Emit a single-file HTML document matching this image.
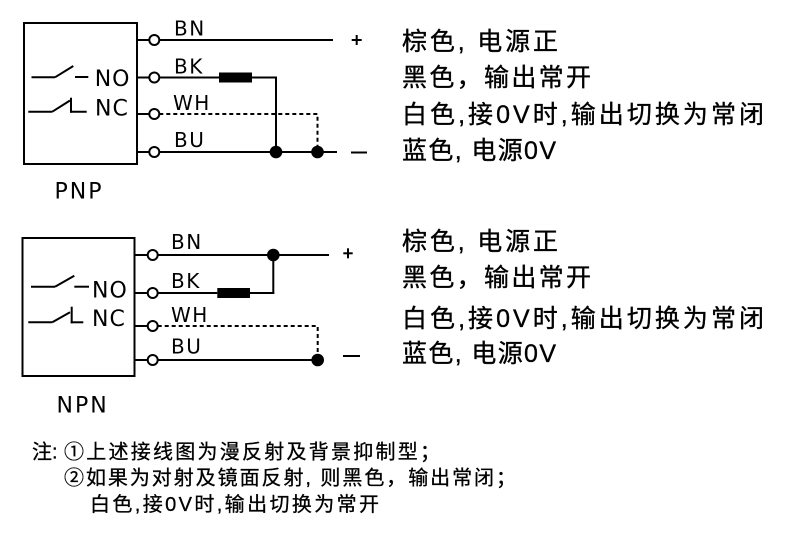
<!DOCTYPE html>
<html>
<head>
<meta charset="utf-8">
<style>
  html,body{margin:0;padding:0;background:#fff;}
  svg{display:block;}
  .lat{font-family:"DejaVu Sans","Liberation Sans",sans-serif;fill:#000;}
  .cjk{font-family:"Liberation Sans","Noto Sans CJK SC",sans-serif;fill:#000;stroke:#000;stroke-width:0.35;}
</style>
</head>
<body>
<svg width="790" height="544" viewBox="0 0 790 544" xmlns="http://www.w3.org/2000/svg">
  <g stroke="#000" stroke-width="2" fill="none">
    <!-- ===== PNP ===== -->
    <rect x="24" y="23" width="113" height="141"/>
    <line x1="31.5" y1="77.3" x2="55" y2="77.3"/>
    <line x1="55" y1="77.3" x2="73.3" y2="66"/>
    <line x1="75" y1="77" x2="88.3" y2="77"/>
    <line x1="28.3" y1="111.7" x2="52.3" y2="111.7"/>
    <line x1="52.3" y1="111.7" x2="70" y2="100.5"/>
    <line x1="71" y1="97.7" x2="71" y2="112.7"/>
    <line x1="70" y1="111.7" x2="86.7" y2="111.7"/>
    <line x1="137" y1="40" x2="149.3" y2="40"/>
    <line x1="137" y1="77.5" x2="149.3" y2="77.5"/>
    <line x1="137" y1="114" x2="149.3" y2="114"/>
    <line x1="137" y1="152" x2="149.3" y2="152"/>
    <line x1="159.3" y1="40" x2="333" y2="40"/>
    <line x1="159.3" y1="77.5" x2="219" y2="77.5"/>
    <polyline points="252,77.5 276,77.5 276,152"/>
    <path d="M159.3 114 H317.5 V152" stroke-dasharray="4 3"/>
    <line x1="159.3" y1="152" x2="337" y2="152"/>
    <line x1="351.7" y1="40" x2="361.7" y2="40"/>
    <line x1="356.7" y1="35" x2="356.7" y2="45"/>
    <line x1="351" y1="152.5" x2="367" y2="152.5"/>

    <!-- ===== NPN ===== -->
    <rect x="22.5" y="238" width="112" height="138"/>
    <line x1="31" y1="286.7" x2="55" y2="286.7"/>
    <line x1="55" y1="286.7" x2="74.3" y2="275.7"/>
    <line x1="74.3" y1="286.7" x2="89" y2="286.7"/>
    <line x1="28.3" y1="322.3" x2="52.3" y2="322.3"/>
    <line x1="52.3" y1="322.3" x2="70" y2="312.3"/>
    <line x1="71.7" y1="306.7" x2="71.7" y2="323.3"/>
    <line x1="70.7" y1="322.3" x2="83.3" y2="322.3"/>
    <line x1="134.5" y1="255" x2="147.7" y2="255"/>
    <line x1="134.5" y1="293" x2="147.7" y2="293"/>
    <line x1="134.5" y1="326" x2="147.7" y2="326"/>
    <line x1="134.5" y1="360" x2="147.7" y2="360"/>
    <line x1="157.7" y1="255" x2="329" y2="255"/>
    <line x1="273.3" y1="255" x2="273.3" y2="294"/>
    <line x1="157.7" y1="293" x2="217.3" y2="293"/>
    <line x1="250" y1="293" x2="274.3" y2="293"/>
    <path d="M157.7 326 H317.7 V360" stroke-dasharray="4 3"/>
    <line x1="157.7" y1="360" x2="317.7" y2="360"/>
    <line x1="343.3" y1="253.3" x2="352.7" y2="253.3"/>
    <line x1="348" y1="248.3" x2="348" y2="258.3"/>
    <line x1="343" y1="356" x2="360" y2="356"/>
  </g>

  <g stroke="#000" stroke-width="2" fill="#fff">
    <circle cx="154.3" cy="40" r="5"/>
    <circle cx="154.3" cy="77.5" r="5"/>
    <circle cx="154.3" cy="114" r="5"/>
    <circle cx="154.3" cy="152" r="5"/>
    <circle cx="152.7" cy="255" r="5"/>
    <circle cx="152.7" cy="293" r="5"/>
    <circle cx="152.7" cy="326" r="5"/>
    <circle cx="152.7" cy="360" r="5"/>
  </g>
  <g fill="#000">
    <rect x="219" y="72.5" width="33" height="10"/>
    <rect x="217.3" y="288" width="32.7" height="10"/>
    <circle cx="276" cy="152" r="6.3"/>
    <circle cx="317.5" cy="152" r="6.3"/>
    <circle cx="273.3" cy="255" r="6.3"/>
    <circle cx="317.7" cy="360" r="6.3"/>
  </g>

  <g class="lat" font-size="20" letter-spacing="1.5">
    <text x="174" y="35.5">BN</text>
    <text x="174" y="73.5">BK</text>
    <text x="173" y="110">WH</text>
    <text x="174" y="147">BU</text>
    <text x="171" y="249">BN</text>
    <text x="171" y="288">BK</text>
    <text x="171" y="322">WH</text>
    <text x="171" y="353.5">BU</text>
  </g>
  <g class="lat" font-size="22" letter-spacing="1">
    <text x="94.7" y="86">NO</text>
    <text x="95" y="115.7">NC</text>
    <text x="92" y="297.7">NO</text>
    <text x="92" y="326">NC</text>
  </g>
  <g class="lat" font-size="22" letter-spacing="2">
    <text x="54.5" y="198.3">PNP</text>
    <text x="56.5" y="412.3">NPN</text>
  </g>

  <g class="cjk" font-size="25">
    <text x="402" y="50" textLength="156" lengthAdjust="spacing">棕色, 电源正</text>
    <text x="402" y="86" textLength="189" lengthAdjust="spacing">黑色，输出常开</text>
    <text x="402" y="123" textLength="362" lengthAdjust="spacing">白色,接0V时,输出切换为常闭</text>
    <text x="402" y="159" textLength="154" lengthAdjust="spacing">蓝色, 电源0V</text>

    <text x="402" y="250" textLength="156" lengthAdjust="spacing">棕色, 电源正</text>
    <text x="402" y="286" textLength="189" lengthAdjust="spacing">黑色，输出常开</text>
    <text x="402" y="327" textLength="362" lengthAdjust="spacing">白色,接0V时,输出切换为常闭</text>
    <text x="402" y="362" textLength="154" lengthAdjust="spacing">蓝色, 电源0V</text>
  </g>

  <g class="cjk" font-size="20" style="stroke-width:0.3">
    <text x="32" y="458.5">注:</text>
    <text x="64" y="458.5" textLength="376" lengthAdjust="spacing">①上述接线图为漫反射及背景抑制型；</text>
    <text x="64" y="484.5" textLength="452" lengthAdjust="spacing">②如果为对射及镜面反射, 则黑色，输出常闭；</text>
    <text x="90" y="511" textLength="289" lengthAdjust="spacing">白色,接0V时,输出切换为常开</text>
  </g>
</svg>
</body>
</html>
